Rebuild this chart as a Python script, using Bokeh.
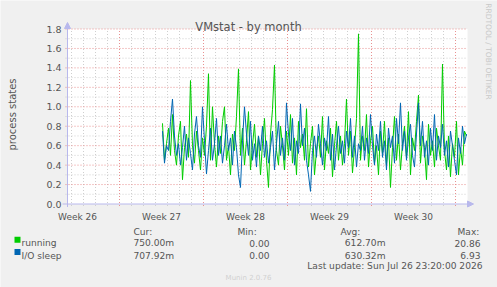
import math
from bokeh.plotting import figure
from bokeh.models import Label, Arrow, NormalHead, Range1d, BoxAnnotation
from bokeh.core.properties import value
from bokeh.embed import file_html
from bokeh.resources import INLINE

# ---------------- data ----------------
running = [
    0.83, 0.45, 0.62, 0.78, 0.50, 0.92, 0.55, 0.40, 0.70, 0.85,
    0.25, 0.58, 0.72, 0.48, 1.27, 0.60, 0.42, 0.75, 0.55, 0.35,
    0.68, 0.50, 0.80, 1.34, 0.45, 1.00, 0.62, 0.38, 0.70, 0.52,
    0.85, 1.00, 0.45, 0.60, 0.30, 0.72, 0.55, 0.90, 1.39, 0.50,
    0.78, 0.40, 0.65, 0.95, 0.35, 0.60, 0.82, 0.48, 0.70, 0.30,
    0.62, 0.88, 0.45, 0.17, 0.72, 0.97, 1.43, 0.55, 0.40, 0.80,
    0.60, 0.35, 0.75, 0.50, 0.92, 0.42, 0.68, 0.30, 0.85, 0.58,
    0.72, 0.45, 0.98, 0.38, 0.62, 0.80, 0.30, 0.55, 0.70, 0.48,
    0.90, 0.35, 0.65, 0.52, 0.78, 0.28, 0.60, 0.85, 0.45, 0.70,
    0.40, 0.62, 1.08, 0.50, 0.75, 0.32, 0.58, 0.88, 1.75, 0.45,
    0.70, 0.55, 0.92, 0.38, 0.65, 0.80, 0.42, 0.60, 0.30, 0.75,
    0.52, 0.85, 0.40, 0.68, 0.17, 0.58, 0.90, 0.45, 0.72, 0.35,
    0.62, 0.80, 0.48, 0.95, 0.30, 0.68, 0.55, 0.85, 1.12, 0.42,
    0.70, 0.58, 0.25, 0.82, 0.50, 0.65, 0.38, 0.78, 0.60, 0.45,
    1.44, 0.55, 0.35, 0.70, 0.28, 0.62, 0.48, 0.85, 0.30, 0.58,
    0.40, 0.75, 0.70,
]
io_sleep = [
    0.75, 0.42, 0.60, 0.55, 0.85, 1.08, 0.70, 0.50, 0.62, 0.40,
    0.58, 0.80, 0.45, 0.68, 0.52, 0.35, 0.72, 0.90, 0.60, 0.48,
    1.00, 0.65, 0.31, 0.55, 0.78, 0.45, 0.62, 0.88, 0.50, 0.70,
    0.42, 0.60, 0.82, 0.55, 0.68, 0.40, 0.75, 0.58, 0.30, 0.17,
    0.65, 1.00, 0.72, 0.50, 0.85, 0.45, 0.62, 0.38, 0.70, 0.55,
    0.80, 0.48, 0.65, 0.42, 0.58, 0.75, 0.35, 0.62, 0.85, 0.50,
    0.68, 0.45, 1.04, 0.72, 0.55, 0.88, 0.40, 0.65, 0.52, 1.03,
    0.60, 0.78, 0.45, 0.30, 0.13, 0.55, 0.70, 0.48, 0.82, 0.62,
    0.40, 0.68, 0.55, 0.90, 0.45, 0.72, 0.35, 0.60, 0.80, 0.52,
    0.65, 0.42, 0.75, 0.58, 0.88, 0.48, 0.70, 0.38, 0.62, 0.55,
    0.80, 0.45, 0.68, 0.52, 0.92, 0.60, 0.40, 0.72, 0.55, 0.85,
    0.48, 0.65, 0.35, 0.78, 0.58, 0.70, 0.42, 0.88, 0.62, 1.04,
    0.55, 0.75, 0.45, 0.68, 0.82, 0.50, 0.38, 0.72, 1.04, 0.60,
    0.85, 0.48, 0.65, 0.40, 0.78, 0.55, 0.92, 0.45, 0.70, 0.58,
    0.82, 0.50, 0.65, 0.38, 0.75, 0.60, 0.45, 0.30, 0.68, 0.52,
    0.80, 0.62, 0.72,
]
start_day = 10.583          # days after Monday of week 26
step_days = 1.0 / 6.0       # one sample every 4 hours

week_labels = ["Week 26", "Week 27", "Week 28", "Week 29", "Week 30"]
week_label_days = [3.5, 10.5, 17.5, 24.5, 31.5]
week_starts = [7, 14, 21, 28, 35]
day_lines = [d for d in range(3, 36) if d % 7 != 0]
y_ticks = [0.0, 0.2, 0.4, 0.6, 0.8, 1.0, 1.2, 1.4, 1.6, 1.8]
y_tick_labels = ["0.0", "0.2", "0.4", "0.6", "0.8", "1.0", "1.2", "1.4", "1.6", "1.8"]
y_minor = [0.1, 0.3, 0.5, 0.7, 0.9, 1.1, 1.3, 1.5, 1.7]

series_names = ["running", "I/O sleep"]
series_colors = ["#00CC00", "#0066B3"]
cur_vals = ["750.00m", "707.92m"]
min_vals = ["0.00", "0.00"]
avg_vals = ["612.70m", "630.32m"]
max_vals = ["20.86", "6.93"]
last_update = "Last update: Sun Jul 26 23:20:00 2026"

x = [start_day + i * step_days for i in range(len(running))]

# ---------------- layout geometry (canvas pixels) ----------------
W, H = 497, 287
FL, FR, FT, FB = 67, 467, 28.5, 203.5
XMIN, XMAX = 2.667, 36.0
YMIN, YMAX = 0.0, 1.8
kx = (FR - FL) / (XMAX - XMIN)
ky = (FB - FT) / (YMAX - YMIN)
X0 = XMIN - FL / kx
X1 = X0 + W / kx
Y0 = YMIN - (H - FB) / ky
Y1 = Y0 + H / ky


def dx(px):
    return X0 + px / kx


def dy(py):
    return Y1 - py / ky


p = figure(width=W, height=H, output_backend="svg", toolbar_location=None,
           x_range=Range1d(X0, X1), y_range=Range1d(Y0, Y1),
           x_axis_type=None, y_axis_type=None,
           min_border=0, min_border_left=0, min_border_right=0,
           min_border_top=0, min_border_bottom=0,
           background_fill_color="#F0F0F0", border_fill_color="#F0F0F0",
           outline_line_color=None)

FONT = "DejaVu Sans"
TXT = "#555555"
MAJ = "#E89090"
MIN = "#CFCFCF"
AX = "#B8B8EC"

# plot area
p.add_layout(BoxAnnotation(left=XMIN, right=XMAX, bottom=YMIN, top=YMAX,
                           fill_color="white", fill_alpha=1, line_color=None,
                           level="underlay"))

# grid lines (minor then major), slightly extended past the axes as tick marks
p.segment(x0=day_lines, y0=[dy(FB + 2)] * len(day_lines),
          x1=day_lines, y1=[YMAX] * len(day_lines),
          line_color=MIN, line_dash="1 2", line_width=1)
p.segment(x0=[dx(FL - 2)] * len(y_minor), y0=y_minor,
          x1=[XMAX] * len(y_minor), y1=y_minor,
          line_color=MIN, line_dash="1 2", line_width=1)
p.segment(x0=week_starts, y0=[dy(FB + 2)] * len(week_starts),
          x1=week_starts, y1=[YMAX] * len(week_starts),
          line_color=MAJ, line_dash="1 2", line_width=1)
p.segment(x0=[dx(FL - 2)] * (len(y_ticks) - 1), y0=y_ticks[1:],
          x1=[XMAX] * (len(y_ticks) - 1), y1=y_ticks[1:],
          line_color=MAJ, line_dash="1 2", line_width=1)

# axes with arrows
p.add_layout(Arrow(x_start=dx(FL - 5), y_start=YMIN, x_end=dx(FR + 6), y_end=YMIN,
                   line_color=AX, line_width=1,
                   end=NormalHead(size=6, fill_color=AX, line_color=AX)))
p.add_layout(Arrow(x_start=XMIN, y_start=dy(FB + 3), x_end=XMIN, y_end=dy(FT - 6.5),
                   line_color=AX, line_width=1,
                   end=NormalHead(size=6, fill_color=AX, line_color=AX)))

# tick labels
p.text(x=week_label_days, y=[dy(216.5)] * len(week_labels), text=week_labels,
       text_font=value(FONT), text_font_size="9px", text_color=TXT,
       text_align="center", text_baseline="alphabetic")
p.text(x=[dx(61)] * len(y_ticks), y=y_ticks, text=y_tick_labels,
       text_font=value(FONT), text_font_size="9.5px", text_color=TXT,
       text_align="right", text_baseline="middle")

# series
for vals, col in zip([running, io_sleep], series_colors):
    p.line(x, vals, line_color=col, line_width=1)


def lab(px, py, text, size="9.1px", color=TXT, align="left",
        baseline="alphabetic", angle=0.0):
    p.add_layout(Label(x=dx(px), y=dy(py), text=text, text_font=FONT,
                       text_font_size=size, text_color=color,
                       text_align=align, text_baseline=baseline, angle=angle))


lab(248, 26, "VMstat - by month", size="11.5px", align="center")
lab(12, 114, "process states", size="10px", align="center",
    baseline="middle", angle=math.pi / 2)
lab(488, 51, "RRDTOOL / TOBI OETIKER", size="7.5px", color="#C8C8C8",
    align="center", baseline="middle", angle=-math.pi / 2)

# legend table
lab(133, 231, "Cur:")
lab(237, 231, "Min:")
lab(340, 231, "Avg:")
lab(457, 231, "Max:")
for k in range(2):
    yb = 242.7 + 12.4 * k
    p.add_layout(BoxAnnotation(left=dx(14), right=dx(20),
                               top=dy(yb - 6.5), bottom=dy(yb - 0.5),
                               fill_color=series_colors[k], fill_alpha=1,
                               line_color=None))
    lab(21, yb, series_names[k])
    lab(133, yb, cur_vals[k])
    lab(269, yb, min_vals[k], align="right")
    lab(385, yb, avg_vals[k], align="right")
    lab(480, yb, max_vals[k], align="right")
lab(482, 265.7, last_update, align="right")
lab(248, 277.7, "Munin 2.0.76", size="7px", color="#D0D0D0", align="center")

open("out.html", "w").write(file_html(p, INLINE))
